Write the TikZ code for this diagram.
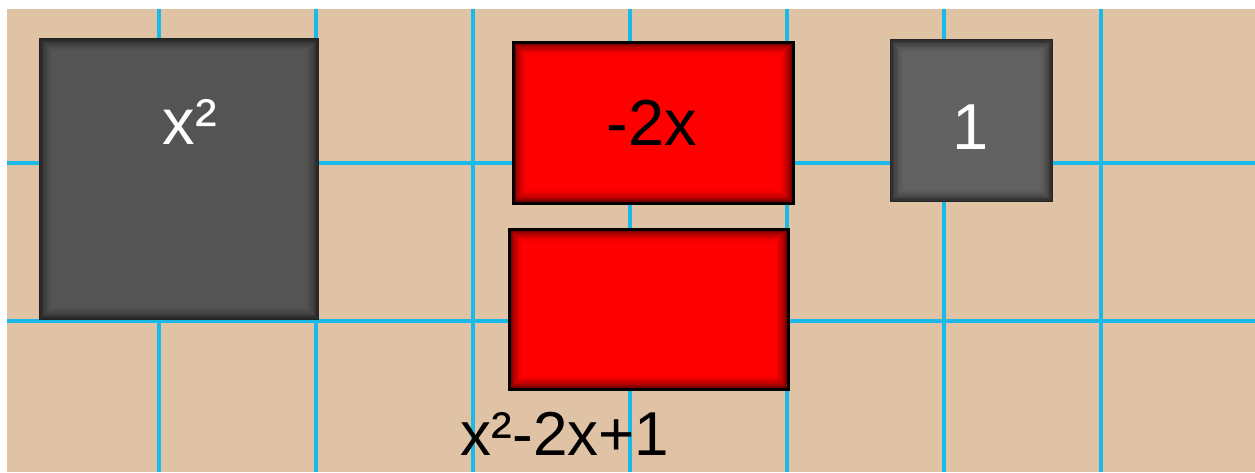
\documentclass[tikz,border=0pt]{standalone}
\usepackage{fontspec}
\setmainfont{Liberation Sans}
\definecolor{wood}{HTML}{E0C3A4}
\definecolor{gridcyan}{HTML}{1BB9E8}
\definecolor{tilegray}{HTML}{545454}
\definecolor{unitgray}{HTML}{626262}
\definecolor{tilered}{HTML}{FF0000}
\usetikzlibrary{calc}
\tikzset{
  tile/.style={
    draw=none, inner sep=0pt, outer sep=0pt, fill=#1,
    path picture={
      \foreach \k/\p in {0/40,1.3/50,2.6/59,3.9/67,5.2/74,6.5/80,7.8/86,9.1/90,10.4/94,11.7/97,13/100}
        \fill[#1!\p!black]
          ([shift={(\k pt,\k pt)}]path picture bounding box.south west) rectangle
          ([shift={(-\k pt,-\k pt)}]path picture bounding box.north east);
    }
  },
  tile/.default=tilegray,
  redtile/.style={tile=tilered, draw=black, line width=3pt},
  gridline/.style={draw=gridcyan, line width=4pt},
  lbl/.style={font=\fontsize{65}{72}\selectfont, anchor=base, inner sep=0pt},
}
\begin{document}
\begin{tikzpicture}[x=1pt, y=-1pt]
  \useasboundingbox (0,0) rectangle (1255,472);
  \fill[wood] (7,9) rectangle (1255,472);

  % grid
  \foreach \gx in {159,316,...,1101}
    \draw[gridline] (\gx,9) -- (\gx,472);
  \foreach \gy in {163,321}
    \draw[gridline] (7,\gy) -- (1255,\gy);

  % tiles
  \node[tile, minimum width=280pt, minimum height=282pt] (xsq) at (179,179) {};
  \node[redtile, minimum width=280pt, minimum height=161pt] (negx) at (653,122.5) {};
  \node[redtile, minimum width=279pt, minimum height=160pt] (negxb) at (648.5,309) {};
  \node[tile=unitgray, minimum width=163pt, minimum height=163pt] (unit) at (971.5,120.5) {};

  % labels
  \node[lbl, text=white] (xsqlbl) at (190,144) {x²};
  \node[lbl] (negxlbl) at (652,145) {-2x};
  \node[lbl, text=white] (unitlbl) at (971,149) {1};
  \node[lbl, font=\fontsize{62}{70}\selectfont] (exprlbl) at (565,455) {x²-2x+1};
\end{tikzpicture}
\end{document}
